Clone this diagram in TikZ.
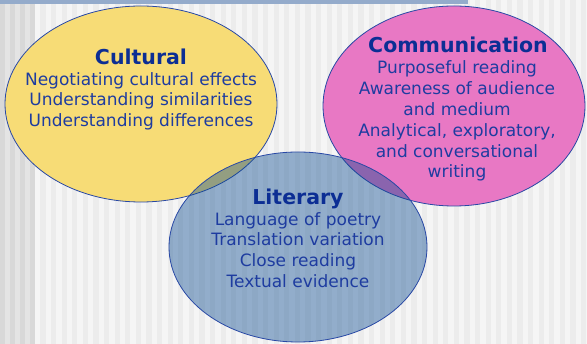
\documentclass[tikz,border=0pt]{standalone}
\usepackage{fontspec}
\setmainfont{DejaVu Sans}
\usetikzlibrary{shapes.geometric}

\definecolor{bgbase}{RGB}{245,245,245}
\definecolor{bgstripe}{RGB}{236,236,236}
\definecolor{bgleft}{RGB}{228,228,228}
\definecolor{bgleftstripe}{RGB}{216,216,216}
\definecolor{topbar}{RGB}{148,171,203}
\definecolor{cultfill}{RGB}{247,220,118}
\definecolor{commfill}{RGB}{232,120,196}
\definecolor{litfill}{RGB}{10,74,145}
\definecolor{rimblue}{RGB}{40,72,165}
\definecolor{titleblue}{RGB}{12,46,148}
\definecolor{bodyblue}{RGB}{30,60,160}

\tikzset{
  venn/.style={ellipse, draw=rimblue, line width=0.8pt, inner sep=0pt, outer sep=0pt},
  vtitle/.style={font=\fontsize{20.5}{24}\selectfont\bfseries, text=titleblue,
                 inner sep=0pt, text depth=0pt},
  vbody/.style={font=\fontsize{17}{20.8}\selectfont, text=bodyblue,
                align=center, inner sep=0pt}
}

\begin{document}
\begin{tikzpicture}[x=1pt,y=-1pt]
\useasboundingbox (0,0) rectangle (587,344);

% striped backdrop
\fill[bgbase] (0,0) rectangle (587,344);
\fill[bgleft] (0,0) rectangle (35,344);
\foreach \i in {0,...,3}
  \fill[bgleftstripe] (\i*10,0) rectangle ++(5,344);
\foreach \i in {0,...,52}
  \fill[bgstripe] (35+\i*10.6+5.3,0) rectangle ++(5.3,344);

% band along the top edge
\fill[topbar] (0,0) rectangle (468,4.5);

% the three circles
\node[venn, fill=cultfill, minimum width=272pt, minimum height=196pt] (cult) at (141,104) {};
\node[venn, fill=commfill, minimum width=262pt, minimum height=200pt] (comm) at (454,106) {};
\node[venn, fill=litfill, fill opacity=0.42, minimum width=258pt, minimum height=190pt] (lit) at (298,247) {};

% Cultural
\node[vtitle] (culttitle) at (141,57) {Cultural};
\node[vbody] (culttext) at (141,101.3) {Negotiating cultural effects\\Understanding similarities\\Understanding differences};

% Communication
\node[vtitle] (commtitle) at (458,45) {Communication};
\node[vbody] (commtext) at (457,121.3) {Purposeful reading\\Awareness of audience\\and medium\\Analytical, exploratory,\\and conversational\\writing};

% Literary
\node[vtitle] (littitle) at (298,197) {Literary};
\node[vbody] (littext) at (298,250) {Language of poetry\\Translation variation\\Close reading\\Textual evidence};
\end{tikzpicture}
\end{document}
